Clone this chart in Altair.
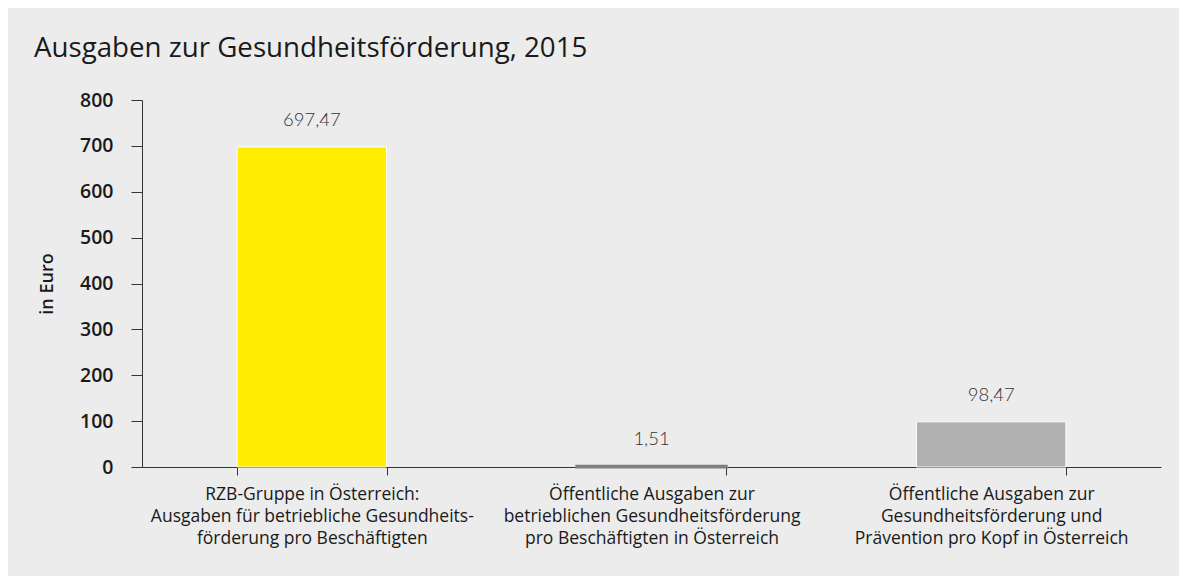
import altair as alt
import pandas as pd

categories = [
    "RZB-Gruppe in Österreich:|Ausgaben für betriebliche Gesundheits-|förderung pro Beschäftigten",
    "Öffentliche Ausgaben zur|betrieblichen Gesundheitsförderung|pro Beschäftigten in Österreich",
    "Öffentliche Ausgaben zur|Gesundheitsförderung und|Prävention pro Kopf in Österreich",
]
values = [697.47, 1.51, 98.47]
value_labels = ["697,47", "1,51", "98,47"]
bar_colors = ["#ffec00", "#7f7f7f", "#b1b1b1"]
y_ticks = [0, 100, 200, 300, 400, 500, 600, 700, 800]

df = pd.DataFrame({"cat": categories, "val": values, "lbl": value_labels})

FONT = "Open Sans"

x = alt.X(
    "cat:N",
    sort=categories,
    scale=alt.Scale(paddingInner=0.56, paddingOuter=0.28),
    axis=alt.Axis(
        title=None,
        labelAngle=0,
        labelExpr="split(datum.label, '|')",
        labelLineHeight=22,
        labelFont=FONT,
        labelFontSize=17.5,
        labelColor="#1a1a1a",
        labelPadding=10,
        labelLimit=0,
        tickBand="extent",
        tickSize=8,
        tickColor="#333333",
        domainColor="#333333",
        labelBaseline="top",
    ),
)

y = alt.Y(
    "val:Q",
    scale=alt.Scale(domain=[0, 800], nice=False),
    axis=alt.Axis(
        title="in Euro",
        values=y_ticks,
        grid=False,
        labelFont=FONT,
        labelFontSize=19.5,
        labelFontWeight=600,
        labelColor="#1a1a1a",
        labelPadding=18,
        tickSize=11,
        tickColor="#333333",
        domainColor="#333333",
        titleFont=FONT,
        titleFontSize=18,
        titleFontWeight=600,
        titleColor="#1a1a1a",
        titlePadding=23,
    ),
)

bars = alt.Chart(df).mark_bar(stroke="white").encode(
    x=x,
    y=y,
    color=alt.Color("cat:N", sort=categories,
                    scale=alt.Scale(domain=categories, range=bar_colors), legend=None),
    strokeWidth=alt.condition(alt.datum.val < 10, alt.value(3), alt.value(1)),
    stroke=alt.condition(alt.datum.val < 10, alt.value("#7f7f7f"), alt.value("white")),
)

texts = alt.Chart(df).mark_text(
    font="Lato", fontSize=18.5, fontWeight=300, color="#333333",
    baseline="alphabetic", dy=-21,
).encode(
    x=alt.X("cat:N", sort=categories),
    y="val:Q",
    text="lbl:N",
)

chart = (bars + texts).properties(
    width=1019,
    height=367,
    background="#ececec",
    padding={"left": 134, "top": 92, "right": 18, "bottom": 109},
    autosize=alt.AutoSizeParams(type="none"),
    title=alt.TitleParams(
        "Ausgaben zur Gesundheitsförderung, 2015",
        anchor="start",
        frame="group",
        font=FONT,
        fontSize=27.7,
        fontWeight="normal",
        color="#1a1a1a",
        dx=-108,
        dy=37,
        offset=42,
        baseline="alphabetic",
    ),
).configure_view(stroke=None)

chart.save("out.html", embed_options={"renderer": "svg", "actions": False})
